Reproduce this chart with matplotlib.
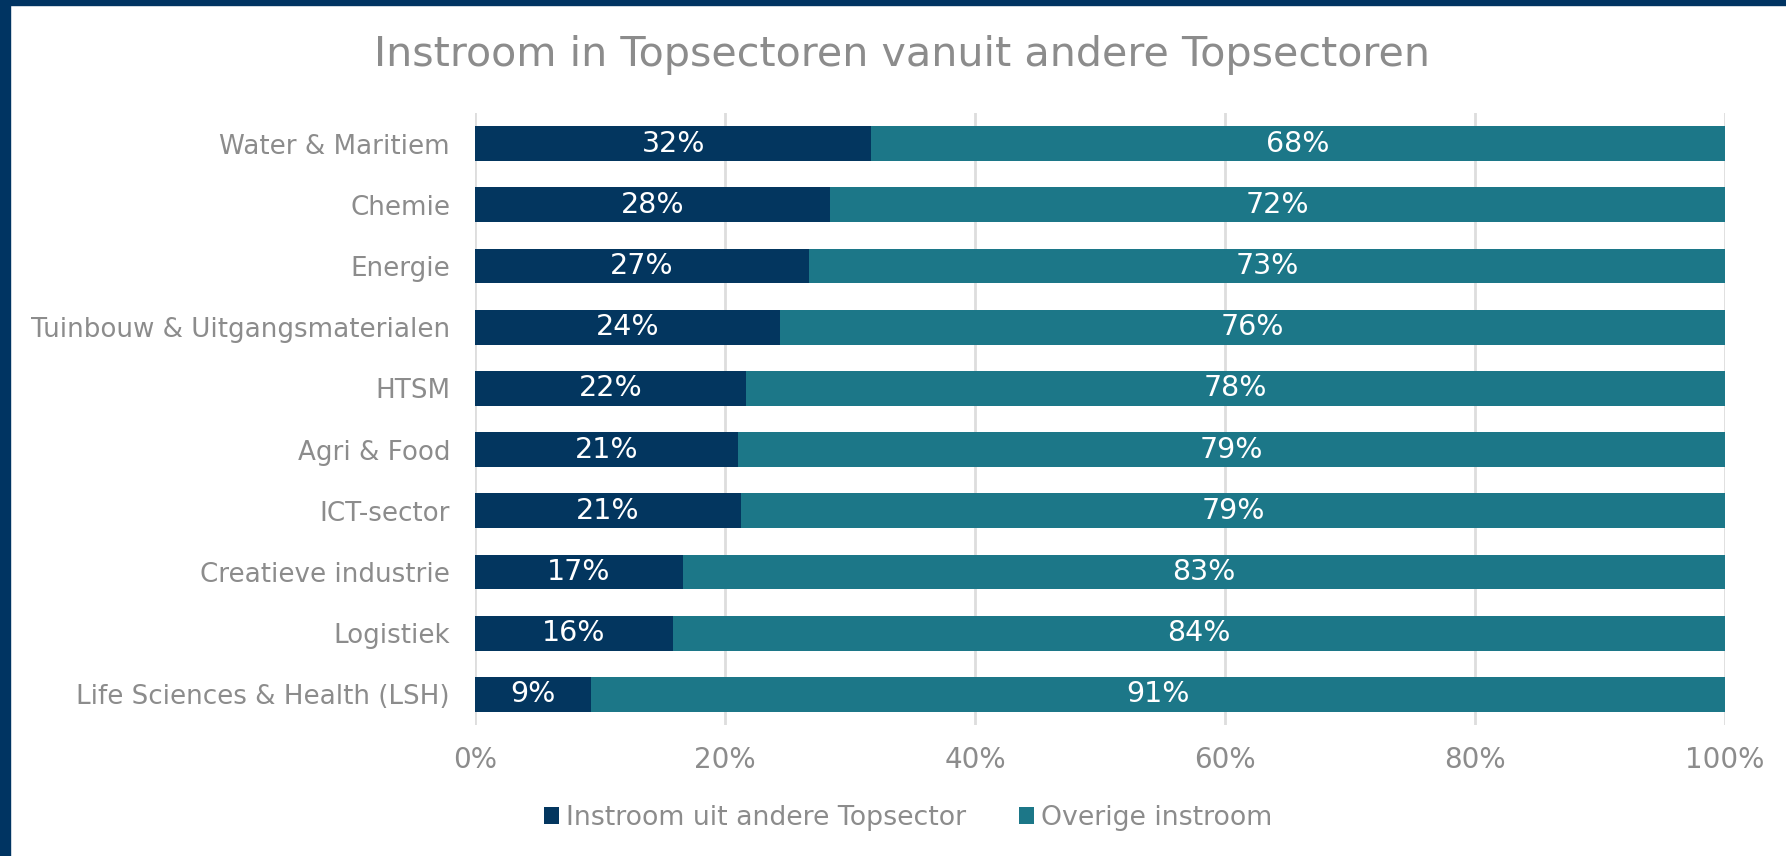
import matplotlib
matplotlib.use("Agg")
import matplotlib.pyplot as plt
from matplotlib.patches import Rectangle

categories = ["Water & Maritiem", "Chemie", "Energie", "Tuinbouw & Uitgangsmaterialen",
              "HTSM", "Agri & Food", "ICT-sector", "Creatieve industrie", "Logistiek",
              "Life Sciences & Health (LSH)"]
instroom_topsector = [31.7, 28.4, 26.7, 24.4, 21.7, 21.0, 21.3, 16.6, 15.8, 9.3]
overige_instroom = [100 - v for v in instroom_topsector]
series_names = ["Instroom uit andere Topsector", "Overige instroom"]
xticks = [0, 20, 40, 60, 80, 100]
title = "Instroom in Topsectoren vanuit andere Topsectoren"

c_dark = "#03365F"
c_teal = "#1C7788"
c_text = "#8C8C8C"
c_grid = "#DDDDDD"

plt.rcParams['font.family'] = ['DejaVu Sans']

fig = plt.figure(figsize=(17.86, 8.56), dpi=100)
ax = fig.add_axes([475/1786, 1-725/856, 1250/1786, 612/856])

y = list(range(len(categories)))
h = 0.57
b1 = ax.barh(y, instroom_topsector, height=h, color=c_dark, label=series_names[0], zorder=3)
b2 = ax.barh(y, overige_instroom, left=instroom_topsector, height=h, color=c_teal,
             label=series_names[1], zorder=3)

for i in y:
    v1 = instroom_topsector[i]
    v2 = overige_instroom[i]
    ax.text(v1/2, i, f"{v1:.0f}%", ha="center", va="center", color="white", fontsize=20.5, zorder=4)
    ax.text(v1 + v2/2, i, f"{v2:.0f}%", ha="center", va="center", color="white", fontsize=20.5, zorder=4)

ax.set_ylim(len(categories) - 0.5, -0.5)
ax.set_xlim(0, 100)
ax.set_yticks(y)
ax.set_yticklabels(categories, fontsize=18.8, color=c_text)
ax.set_xticks(xticks)
ax.set_xticklabels([f"{t}%" for t in xticks], fontsize=20, color=c_text)
ax.tick_params(axis="both", length=0)
ax.tick_params(axis="y", pad=18)
ax.tick_params(axis="x", pad=15)
ax.grid(axis="x", color=c_grid, linewidth=2, zorder=0)
for s in ax.spines.values():
    s.set_visible(False)

fig.text(902/1786, 1-55/856, title, ha="center", va="center", fontsize=29.7, color=c_text)

leg = fig.legend(handles=[b1, b2], labels=series_names, loc="center", ncol=2,
                 bbox_to_anchor=(908/1786, 1-818/856), frameon=False, fontsize=19.3,
                 handlelength=0.55, handleheight=0.55, handletextpad=0.25, columnspacing=2.0)
for t in leg.get_texts():
    t.set_color(c_text)

# border
fig.patches.append(Rectangle((0, 0), 10/1786, 1, transform=fig.transFigure, color="#003462", zorder=10))
fig.patches.append(Rectangle((0, 1-5/856), 1, 5/856, transform=fig.transFigure, color="#003462", zorder=10))

fig.savefig("out.png", dpi=100)
